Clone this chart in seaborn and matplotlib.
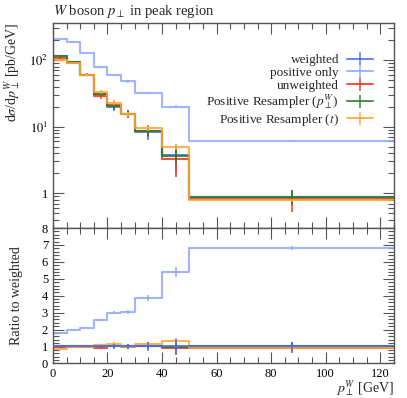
import numpy as np
import pandas as pd
import matplotlib
matplotlib.use("Agg")
import matplotlib.pyplot as plt
import matplotlib.ticker as mticker
import seaborn as sns

# bin edges in pT [GeV]
edges = [0, 5, 10, 15, 20, 25, 30, 40, 50, 125]

# dsigma/dpT [pb/GeV] per bin
weighted = [115, 94, 60, 31, 20, 15.7, 8.3, 3.7, 0.88]
positive = [207, 188, 126, 79, 60, 48, 32, 20, 6.0]
unweighted = [109, 92, 60, 29, 21, 15.7, 8.7, 3.26, 0.82]
resampler_pt = [116, 94, 59.5, 31, 20.5, 15.5, 8.5, 3.66, 0.88]
resampler_t = [101, 91, 59, 33, 23, 15.4, 9.5, 4.95, 0.78]

# absolute uncertainties
weighted_err = [3, 2, 2, 2, 3, 2, 2, 1.6, 0.22]
positive_err = [3, 3, 2, 2, 2, 2, 1.5, 1.0, 0.1]
unweighted_err = [4, 3, 3, 3, 3, 2, 1.8, 1.5, 0.3]
resampler_pt_err = [3, 2, 2, 2, 2, 1.5, 1.2, 0.8, 0.2]
resampler_t_err = [3, 2, 2, 2, 2, 1.5, 1.0, 0.5, 0.05]

labels = ["weighted", "positive only", "unweighted",
          r"Positive Resampler ($p_\perp^W$)", r"Positive Resampler ($t$)"]
colors = ["#4a6ef0", "#8fa8ff", "#ee3322", "#2a7f2a", "#ffa530"]

series = [weighted, positive, unweighted, resampler_pt, resampler_t]
errors = [weighted_err, positive_err, unweighted_err, resampler_pt_err, resampler_t_err]

sns.set_style("ticks")
plt.rcParams["font.family"] = ["Liberation Serif", "DejaVu Serif"]
plt.rcParams["mathtext.fontset"] = "stix"
plt.rcParams["axes.edgecolor"] = "#555555"
plt.rcParams["xtick.color"] = "#555555"
plt.rcParams["ytick.color"] = "#555555"
plt.rcParams["xtick.labelcolor"] = "black"
plt.rcParams["ytick.labelcolor"] = "black"

edges_arr = np.array(edges, dtype=float)
centers = 0.5 * (edges_arr[:-1] + edges_arr[1:])

fig = plt.figure(figsize=(4.07, 3.98), dpi=100)
ax = fig.add_axes([0.130, 0.427, 0.838, 0.515])
rax = fig.add_axes([0.130, 0.087, 0.838, 0.340], sharex=ax)


def step_frame(vals):
    return pd.DataFrame({"x": edges_arr, "y": np.append(vals, vals[-1])})


handles = []
for i, (vals, errs, c, lab) in enumerate(zip(series, errors, colors, labels)):
    vals = np.array(vals, dtype=float)
    errs = np.array(errs, dtype=float)
    sns.lineplot(data=step_frame(vals), x="x", y="y", ax=ax, color=c,
                 drawstyle="steps-post", lw=1.5, alpha=0.85)
    ax.errorbar(centers, vals, yerr=errs, fmt="none", ecolor=c,
                elinewidth=1.3, alpha=0.85)
    # reference ratio (weighted) sits on top in the lower panel
    z = 5 if i == 0 else 2
    ratio = vals / np.array(weighted)
    rerr = errs / np.array(weighted)
    sns.lineplot(data=step_frame(ratio), x="x", y="y", ax=rax, color=c,
                 drawstyle="steps-post", lw=1.5, alpha=0.85, zorder=z)
    rax.errorbar(centers, ratio, yerr=rerr, fmt="none", ecolor=c,
                 elinewidth=1.3, alpha=0.85, zorder=z)
    h = ax.errorbar([np.nan], [np.nan], yerr=[np.nan], color=c, lw=1.4,
                    elinewidth=1.2, label=lab, alpha=0.85)
    handles.append(h)

ax.set_yscale("log")
ax.set_xlim(0, 125)
ax.set_ylim(0.3, 360)
ax.yaxis.set_major_locator(mticker.FixedLocator([1, 10, 100]))
ax.yaxis.set_major_formatter(mticker.FixedFormatter(["1", "$10^1$", "$10^2$"]))
ax.yaxis.set_minor_locator(mticker.LogLocator(base=10, subs=np.arange(2, 10), numticks=20))
ax.yaxis.set_minor_formatter(mticker.NullFormatter())

for a in (ax, rax):
    a.xaxis.set_major_locator(mticker.MultipleLocator(20))
    a.xaxis.set_minor_locator(mticker.MultipleLocator(5))
    a.tick_params(which="both", direction="in", top=True, right=True, labelsize=9)
    a.tick_params(which="major", length=8, width=0.8)
    a.tick_params(which="minor", length=4, width=0.8)
    for sp in a.spines.values():
        sp.set_linewidth(1.0)

ax.tick_params(labelbottom=False)
ax.set_xlabel("")
ax.set_ylabel(r"d$\sigma$/d$p_\perp^W$ [pb/GeV]", loc="top", fontsize=10)
ax.set_title(r"$W$ boson $p_\perp$ in peak region", loc="left", fontsize=10.5, pad=6)

rax.set_ylim(0, 8)
rax.yaxis.set_major_locator(mticker.MultipleLocator(1))
rax.yaxis.set_minor_locator(mticker.MultipleLocator(0.2))
rax.set_ylabel("Ratio to weighted", fontsize=10)
rax.set_xlabel(r"$p_\perp^W$ [GeV]", loc="right", fontsize=10)

ax.yaxis.set_label_coords(-0.088, 1.0)
rax.yaxis.set_label_coords(-0.088, 0.5)
rax.xaxis.set_label_coords(1.0, -0.115)

ax.legend(handles=handles, labels=labels, loc="upper right", frameon=False,
          markerfirst=False, fontsize=9.5, handlelength=2.0, labelspacing=0.05,
          handletextpad=0.6, bbox_to_anchor=(0.955, 0.875), borderaxespad=0)

fig.savefig("out.png", dpi=100)
